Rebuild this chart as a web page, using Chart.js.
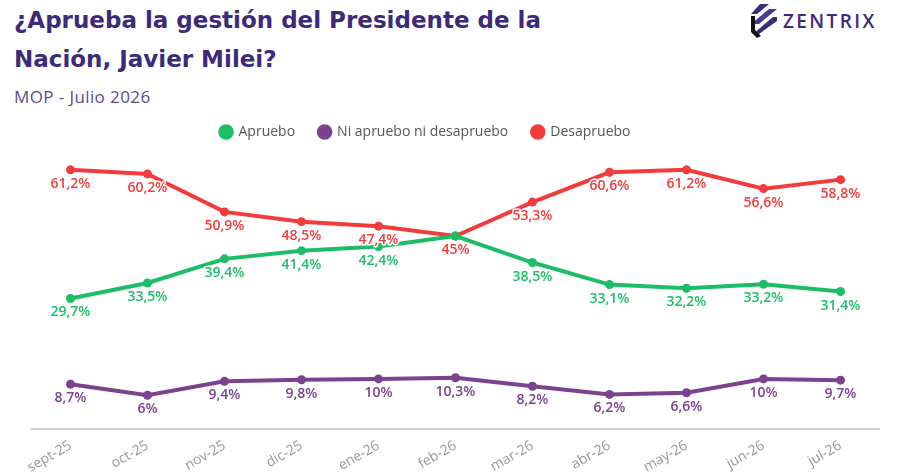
<!DOCTYPE html>
<html lang="es">
<head>
  <meta charset="UTF-8">
  <title>Aprobación Milei</title>
  <script src="https://cdn.jsdelivr.net/npm/chart.js"></script>
  <style>
    html, body { margin: 0; padding: 0; background: #fff; }
    body { width: 900px; height: 474px; position: relative; overflow: hidden; font-family: "Open Sans", sans-serif; }
    h1 { position: absolute; left: 14px; top: 1px; margin: 0; font-family: "DejaVu Sans", sans-serif; font-size: 23px; line-height: 39px; font-weight: 700; color: #3b2b7a; }
    .sub { position: absolute; left: 14px; top: 85px; font-size: 17px; letter-spacing: 0.4px; color: #5b4b8e; }
    .logo { position: absolute; left: 751px; top: 4px; display: flex; align-items: center; }
    .logo span { font-size: 19px; font-weight: 600; color: #3b2b7a; letter-spacing: 2.4px; margin-left: 6px; }
    #wrap { position: absolute; left: 0; top: 93px; width: 900px; height: 387px; }
  </style>
</head>
<body>
  <h1>¿Aprueba la gestión del Presidente de la<br>Nación, Javier Milei?</h1>
  <div class="sub">MOP - Julio 2026</div>
  <div class="logo">
    <svg width="26" height="34" viewBox="0 0 26 34">
      <polygon points="9,0 18,0 6,10 0,10" fill="#3b2b7a"/>
      <polygon points="18,5 26,5 8,20 0,20" fill="#4a3a90"/>
      <polygon points="22,13 26,13 26,17 8,30 2,30" fill="#3b2b7a"/>
      <polygon points="0,12 4,12 4,26 10,32 6,34 0,28" fill="#111"/>
    </svg>
    <span>ZENTRIX</span>
  </div>
  <div id="wrap"><canvas id="c"></canvas></div>

  <script>
    // datos
    const meses = ['sept-25', 'oct-25', 'nov-25', 'dic-25', 'ene-26', 'feb-26', 'mar-26', 'abr-26', 'may-26', 'jun-26', 'jul-26'];
    const apruebo = [29.7, 33.5, 39.4, 41.4, 42.4, 45, 38.5, 33.1, 32.2, 33.2, 31.4];
    const neutro = [8.7, 6, 9.4, 9.8, 10, 10.3, 8.2, 6.2, 6.6, 10, 9.7];
    const desapruebo = [61.2, 60.2, 50.9, 48.5, 47.4, 45, 53.3, 60.6, 61.2, 56.6, 58.8];

    const verde = '#1dbd68';
    const violeta = '#7b4290';
    const rojo = '#f23c3c';

    const fmt = v => String(v).replace('.', ',') + '%';

    // etiquetas de valor debajo de cada punto
    const etiquetas = {
      id: 'etiquetas',
      afterDatasetsDraw(chart) {
        const ctx = chart.ctx;
        ctx.save();
        ctx.font = '600 14px "Open Sans", sans-serif';
        ctx.textAlign = 'center';
        ctx.textBaseline = 'top';
        ctx.lineJoin = 'round';
        chart.data.datasets.forEach((ds, i) => {
          chart.getDatasetMeta(i).data.forEach((pt, j) => {
            const txt = fmt(ds.data[j]);
            ctx.lineWidth = 3;
            ctx.strokeStyle = '#fff';
            ctx.strokeText(txt, pt.x, pt.y + 7);
            ctx.fillStyle = ds.borderColor;
            ctx.fillText(txt, pt.x, pt.y + 7);
          });
        });
        ctx.restore();
      }
    };

    // la leyenda del original está un poco corrida a la izquierda
    const moverLeyenda = {
      id: 'moverLeyenda',
      afterLayout(chart) {
        chart.legend.left -= 30;
        chart.legend.right -= 30;
      }
    };

    const serie = (label, data, color) => ({
      label, data,
      borderColor: color,
      backgroundColor: color,
      borderWidth: 4,
      pointRadius: 4.5,
      pointBackgroundColor: color,
      pointBorderWidth: 0,
      tension: 0
    });

    new Chart(document.getElementById('c'), {
      type: 'line',
      data: {
        labels: meses,
        datasets: [
          serie('Apruebo', apruebo, verde),
          serie('Ni apruebo ni desapruebo', neutro, violeta),
          serie('Desapruebo', desapruebo, rojo)
        ]
      },
      options: {
        responsive: true,
        maintainAspectRatio: false,
        animation: false,
        layout: { padding: { left: 32, right: 21, top: 8, bottom: 2 } },
        plugins: {
          legend: {
            position: 'top',
            labels: {
              usePointStyle: true,
              pointStyle: 'circle',
              boxWidth: 11,
              boxHeight: 11,
              padding: 24,
              color: '#555',
              font: { family: '"Open Sans", sans-serif', size: 14 }
            }
          },
          tooltip: { enabled: false }
        },
        scales: {
          y: {
            display: false,
            min: -2.3,
            max: 66.3
          },
          x: {
            offset: true,
            grid: { display: false, drawTicks: true, tickLength: 6, tickColor: '#ccc' },
            border: { color: '#cfcfcf', width: 2 },
            ticks: {
              color: '#999',
              padding: 2,
              maxRotation: 30,
              minRotation: 30,
              font: { family: '"Open Sans", sans-serif', size: 14 }
            }
          }
        }
      },
      plugins: [etiquetas, moverLeyenda]
    });
  </script>
</body>
</html>
